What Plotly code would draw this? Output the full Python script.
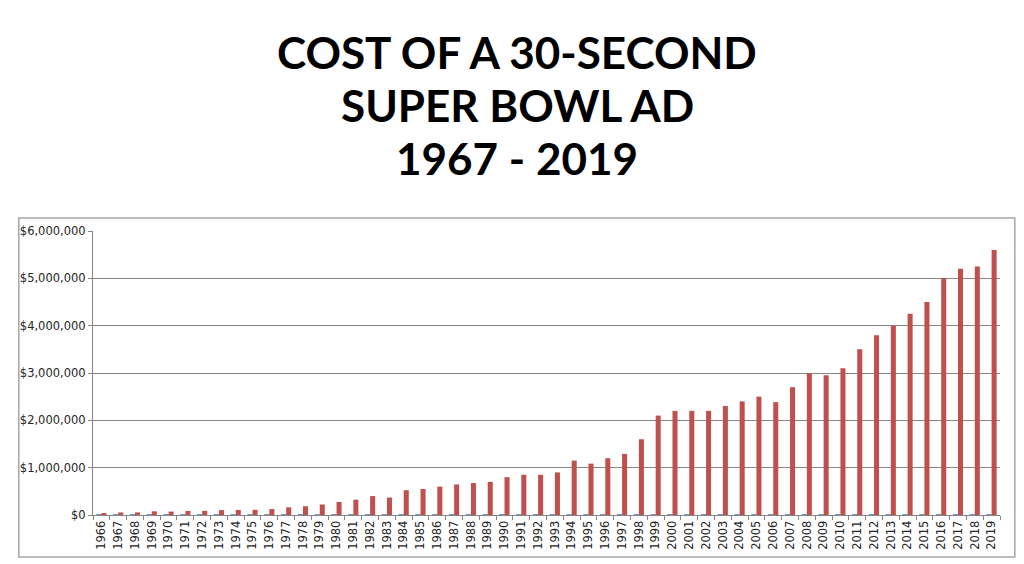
import plotly.graph_objects as go

# category labels as shown on the x axis
years = [1966, 1967, 1968, 1969, 1970, 1971, 1972, 1973, 1974, 1975,
         1976, 1977, 1978, 1979, 1980, 1981, 1982, 1983, 1984, 1985,
         1986, 1987, 1988, 1989, 1990, 1991, 1992, 1993, 1994, 1995,
         1996, 1997, 1998, 1999, 2000, 2001, 2002, 2003, 2004, 2005,
         2006, 2007, 2008, 2009, 2010, 2011, 2012, 2013, 2014, 2015,
         2016, 2017, 2018, 2019]

# cost of a 30-second ad (red series)
cost = [42500, 54000, 55000, 78200, 72000, 86000, 88100, 103500, 107000, 110000,
        125000, 162000, 185000, 222000, 275000, 324300, 400000, 368200, 525000, 550000,
        600000, 645000, 675000, 700400, 800000, 850000, 850000, 900000, 1150000, 1085000,
        1200000, 1291100, 1600000, 2100000, 2200000, 2200000, 2200000, 2302200, 2400000, 2500000,
        2385000, 2700000, 3000000, 2950000, 3100000, 3500000, 3800000, 4000000, 4250000, 4500000,
        5000000, 5200000, 5250000, 5600000]

# the year column also ended up plotted as a series (blue, near zero)
year_series = list(years)

title_lines = ["COST OF A 30-SECOND", "SUPER BOWL AD", "1967 - 2019"]

labels = [str(y) for y in years]

fig = go.Figure()
fig.add_trace(go.Bar(x=labels, y=year_series, name="Year",
                     marker=dict(color="#4F81BD", line=dict(color="#4F81BD", width=1))))
fig.add_trace(go.Bar(x=labels, y=cost, name="Cost",
                     marker=dict(color="#C0504D", line=dict(width=0))))

# page body has an 8px margin, so work in screen pixels and shift
OFF = 8
# plot area on screen: x 83..1000, y 231..515
L, R, T, B = 83, 1000, 231, 515
W, H = R - L, B - T

def px(x):
    return (x - L) / W

def py(y):
    return (B - y) / H

for txt, ypix in zip(title_lines, [52, 105, 158]):
    fig.add_annotation(text=txt, x=px(512), y=py(ypix), xref="paper", yref="paper",
                       showarrow=False, xanchor="center", yanchor="middle",
                       font=dict(family="Lato", size=44, color="#000000", weight="bold"))

# outer chart border
fig.add_shape(type="rect", xref="paper", yref="paper",
              x0=px(8), x1=px(1015), y0=py(557), y1=py(218),
              line=dict(color="#a6a6a6", width=1.5), fillcolor="rgba(0,0,0,0)")

fig.update_layout(
    width=1024, height=564,
    margin=dict(l=L - OFF, r=1024 - (R - OFF), t=T - OFF, b=564 - (B - OFF)),
    paper_bgcolor="white", plot_bgcolor="white",
    showlegend=False,
    barmode="group", bargap=0.4, bargroupgap=0.0,
    font=dict(family="DejaVu Sans", color="#262626"),
)
fig.update_xaxes(type="category", tickangle=-90, tickfont=dict(size=11.5),
                 showline=True, linecolor="#868686", linewidth=1,
                 ticks="outside", tickson="boundaries", ticklen=4, tickcolor="#868686",
                 showgrid=False)
fig.update_yaxes(range=[0, 6000000], dtick=1000000, tickprefix="$", tickformat=",d",
                 tickfont=dict(size=11.5), showline=True, linecolor="#868686", linewidth=1,
                 ticks="outside", ticklen=4, tickcolor="#868686",
                 showgrid=True, gridcolor="#868686", gridwidth=1, zeroline=False)

fig.write_html("out.html")
